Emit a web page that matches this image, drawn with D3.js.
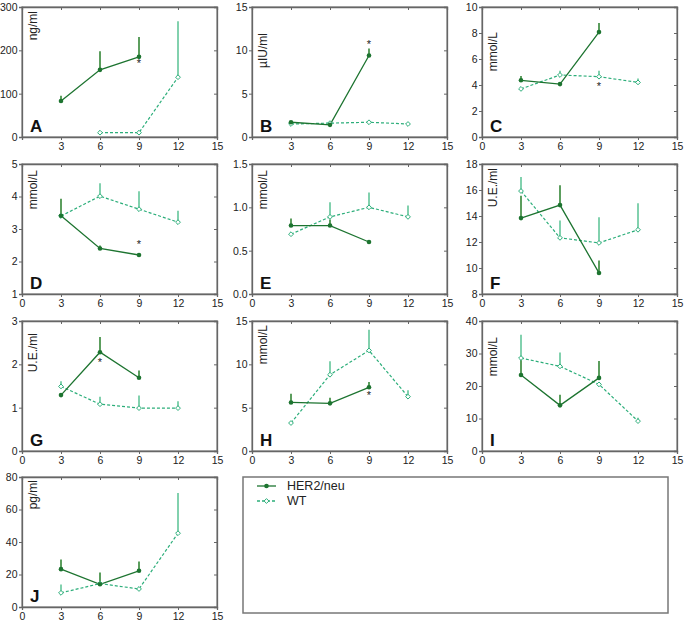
<!DOCTYPE html>
<html><head><meta charset="utf-8">
<script src="https://cdn.jsdelivr.net/npm/d3@7/dist/d3.min.js"></script>
<style>
body{margin:0;background:#fff;}
text{font-family:"Liberation Sans",Arial,sans-serif;}
</style></head>
<body><svg id="chart" width="685" height="623"></svg>
<script>
// ---- data ----
const panelLetters = ["A","B","C","D","E","F","G","H","I","J"];
const unitLabels = ["ng/ml","\u00b5IU/ml","mmol/L","mmol/L","mmol/L","U.E./ml","U.E./ml","mmol/L","mmol/L","pg/ml"];
const yDomains = [[0,300],[0,15],[0,10],[1,5],[0,1.5],[8,18],[0,3],[0,15],[0,40],[0,80]];
const yTickVals = [[0,100,200,300],[0,5,10,15],[0,2,4,6,8,10],[1,2,3,4,5],[0,0.5,1,1.5],[8,10,12,14,16,18],[0,1,2,3],[0,5,10,15],[0,10,20,30,40],[0,20,40,60,80]];
const yTickFmt = [null,null,null,null,".1f",null,null,null,null,null];
const xTicksAll = [0,3,6,9,12,15];
const showZero = [false,false,true,true,true,true,true,true,true,true];

const herMonths = [3,6,9];
const herMean  = [[83,155,185],[1.7,1.4,9.4],[4.36,4.07,8.07],[3.41,2.4,2.2],[0.79,0.79,0.6],[13.84,14.84,9.62],[1.29,2.28,1.69],[5.6,5.5,7.35],[23.4,14.05,22.5],[23.3,14.0,22.3]];
const herUpper = [[95,198,231],[1.7,1.4,10.2],[4.7,4.07,8.76],[3.93,2.49,2.2],[0.87,0.86,0.6],[15.56,16.36,10.57],[1.29,2.63,1.86],[6.6,6.15,7.96],[28.5,17.3,27.7],[29.3,21.2,28.0]];

const wtMonths = [[6,9,12],[3,6,9,12],[3,6,9,12],[3,6,9,12],[3,6,9,12],[3,6,9,12],[3,6,9,12],[3,6,9,12],[3,6,9,12],[3,6,9,12]];
const wtMean  = [[10,10,138],[1.5,1.6,1.7,1.5],[3.7,4.77,4.64,4.2],[3.4,4.01,3.61,3.21],[0.69,0.89,1.0,0.89],[15.92,12.32,11.93,12.94],[1.49,1.08,0.99,0.99],[3.23,8.8,11.6,6.27],[28.6,26.05,20.5,9.2],[8.7,14.4,11.1,45.4]];
const wtUpper = [[10,10,267],[1.5,1.6,1.7,1.5],[3.7,5.1,5.1,4.5],[3.4,4.41,4.16,3.56],[0.69,1.06,1.17,1.02],[17.0,13.65,13.9,14.99],[1.61,1.25,1.28,1.15],[3.23,10.35,14.0,7.0],[35.8,30.3,20.5,10.2],[13.8,14.4,11.1,70.1]];

// significance markers
const starPanels = [0,1,2,3,6,7];
const starMonths = [9,9,9,9,6,9];
const starValues = [175,11.0,4.1,2.6,2.09,6.7];

const seriesNames = ["HER2/neu","WT"];
const herColor = "#1d7430", herErrColor = "#5c9e5e";
const wtColor = "#2cae7a", wtErrColor = "#6cc9a0";

// ---- layout ----
const colLeft = [22, 252, 482];
const rowTop = [7, 164, 321, 477];
const pw = 195, ph = 130;
const unitOffsetY = [4, 26, 25, 6, 6, 4, 12, 4, 16, 3];

const svg = d3.select("#chart");
const diamondPath = "M0,-2.4L2.4,0L0,2.4L-2.4,0Z";

panelLetters.forEach((letter, i) => {
  const col = i % 3, row = Math.floor(i / 3);
  const x0 = colLeft[col], y0 = rowTop[row];
  const g = svg.append("g").attr("transform", `translate(${x0},${y0})`);
  const x = d3.scaleLinear().domain([0,15]).range([0,pw]);
  const y = d3.scaleLinear().domain(yDomains[i]).range([ph,0]);

  g.append("rect").attr("width", pw).attr("height", ph)
    .attr("fill","none").attr("stroke","#8a8a8a").attr("stroke-width",1.3);

  const xt = showZero[i] ? xTicksAll : xTicksAll.filter(v => v !== 0);
  const xa = g.append("g").attr("transform",`translate(0,${ph})`)
    .call(d3.axisBottom(x).tickValues(xt).tickSize(3).tickPadding(3));
  const fmt = yTickFmt[i] ? d3.format(yTickFmt[i]) : d3.format("d");
  const ya = g.append("g")
    .call(d3.axisLeft(y).tickValues(yTickVals[i]).tickSize(3).tickPadding(1.5).tickFormat(fmt));
  g.append("g").attr("transform",`translate(${pw},0)`)
    .call(d3.axisLeft(y).tickValues(yTickVals[i]).tickSize(3).tickFormat(""));
  g.append("g")
    .call(d3.axisBottom(x).tickValues(xTicksAll).tickSize(3).tickFormat(""));
  g.selectAll(".domain").attr("stroke","#666").attr("stroke-width",1.3);
  g.selectAll(".tick line").attr("stroke","#666");
  [xa, ya].forEach(a => a.selectAll("text").attr("font-size", 10.5).attr("fill","#222"));

  g.append("text").attr("transform",`translate(11,${unitOffsetY[i]}) rotate(-90)`)
    .attr("text-anchor","end").attr("dy","0.35em")
    .attr("font-size",12).attr("fill","#222").text(unitLabels[i]);

  g.append("text").attr("x", 8).attr("y", ph - 5)
    .attr("font-size",17).attr("font-weight","bold").attr("fill","#111").text(letter);

  const wt = wtMonths[i].map((m,k) => ({m, v: wtMean[i][k], u: wtUpper[i][k]}));
  const her = herMonths.map((m,k) => ({m, v: herMean[i][k], u: herUpper[i][k]}));
  const line = d3.line().x(d => x(d.m)).y(d => y(d.v));

  g.selectAll(".eh").data(her.filter(d => d.u > d.v)).join("line")
    .attr("x1", d => x(d.m)).attr("x2", d => x(d.m))
    .attr("y1", d => y(d.v)).attr("y2", d => y(d.u))
    .attr("stroke", herErrColor).attr("stroke-width", 2);
  g.selectAll(".ew").data(wt.filter(d => d.u > d.v)).join("line")
    .attr("x1", d => x(d.m)).attr("x2", d => x(d.m))
    .attr("y1", d => y(d.v)).attr("y2", d => y(d.u))
    .attr("stroke", wtErrColor).attr("stroke-width", 2).attr("stroke-opacity",0.85);

  g.append("path").datum(wt).attr("d", line).attr("fill","none")
    .attr("stroke", wtColor).attr("stroke-width",1.2).attr("stroke-dasharray","3,2");
  g.append("path").datum(her).attr("d", line).attr("fill","none")
    .attr("stroke", herColor).attr("stroke-width",1.3);

  g.selectAll(".mw").data(wt).join("path")
    .attr("transform", d => `translate(${x(d.m)},${y(d.v)})`)
    .attr("d", diamondPath).attr("fill","#fff").attr("stroke", wtColor).attr("stroke-width",1);
  g.selectAll(".mh").data(her).join("circle")
    .attr("cx", d => x(d.m)).attr("cy", d => y(d.v)).attr("r", 2.3)
    .attr("fill", herColor);

  starPanels.forEach((p, k) => {
    if (p !== i) return;
    g.append("text").attr("x", x(starMonths[k])).attr("y", y(starValues[k]) + 6)
      .attr("text-anchor","middle").attr("font-size",11).attr("fill","#222").text("*");
  });
});

// ---- legend ----
const lg = svg.append("g");
lg.append("rect").attr("x",243).attr("y",477).attr("width",425).attr("height",136)
  .attr("fill","#fff").attr("stroke","#777").attr("stroke-width",1.5);
seriesNames.forEach((name, k) => {
  const yy = 486 + k * 15;
  lg.append("line").attr("x1",257).attr("x2",276).attr("y1",yy).attr("y2",yy)
    .attr("stroke", k === 0 ? herColor : wtColor).attr("stroke-width",1.3)
    .attr("stroke-dasharray", k === 0 ? null : "3,2");
  if (k === 0) {
    lg.append("circle").attr("cx",266.5).attr("cy",yy).attr("r",2.3).attr("fill",herColor);
  } else {
    lg.append("path").attr("transform",`translate(266.5,${yy})`)
      .attr("d", diamondPath).attr("fill","#fff").attr("stroke",wtColor);
  }
  lg.append("text").attr("x",287).attr("y",yy).attr("dy","0.35em")
    .attr("font-size",12.5).attr("fill","#222").text(name);
});
</script></body></html>
